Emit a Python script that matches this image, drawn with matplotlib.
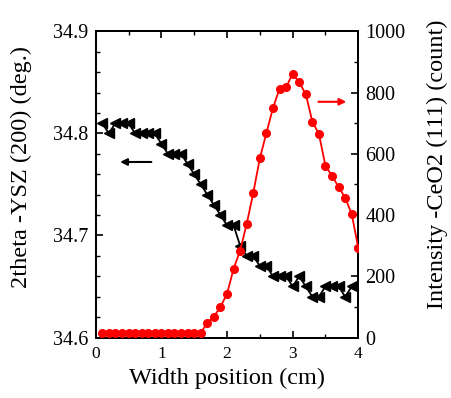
import matplotlib
matplotlib.use("Agg")
import matplotlib.pyplot as plt
from matplotlib.ticker import MultipleLocator, FormatStrFormatter

plt.rcParams["font.family"] = ["Liberation Serif", "DejaVu Serif"]

# width position (cm), same grid for both scans
position = [round(0.1 * i, 1) for i in range(1, 41)]

# 2theta of YSZ (200) peak, deg.
theta_ysz = [34.81, 34.80, 34.81, 34.81, 34.81, 34.80, 34.80, 34.80, 34.80, 34.79,
             34.78, 34.78, 34.78, 34.77, 34.76, 34.75, 34.74, 34.73, 34.72, 34.71,
             34.71, 34.69, 34.68, 34.68, 34.67, 34.67, 34.66, 34.66, 34.66, 34.65,
             34.66, 34.65, 34.64, 34.64, 34.65, 34.65, 34.65, 34.64, 34.65, 34.65]

# CeO2 (111) intensity, counts
intensity_ceo2 = [15, 15, 15, 15, 15, 15, 15, 15, 15, 15,
                  15, 15, 15, 15, 15, 15, 48, 68, 100, 142,
                  224, 284, 371, 472, 585, 668, 749, 813, 817, 862,
                  833, 795, 705, 665, 560, 529, 491, 457, 403, 292]

fig = plt.figure(figsize=(4.52, 3.98), dpi=100)
ax = fig.add_axes([0.2117, 0.152, 0.581, 0.7692])
ax2 = ax.twinx()

ax.plot(position, theta_ysz, color="black", lw=1.3, marker="<", ms=6.5,
        mec="black", mfc="black", zorder=3)
ax2.plot(position, intensity_ceo2, color="red", lw=1.3, marker="o", ms=5.5,
         mec="red", mfc="red", zorder=3)

ax.set_xlim(0, 4)
ax.set_ylim(34.6, 34.9)
ax2.set_ylim(0, 1000)

ax.xaxis.set_major_locator(MultipleLocator(1))
ax.xaxis.set_minor_locator(MultipleLocator(0.5))
ax.yaxis.set_major_locator(MultipleLocator(0.1))
ax.yaxis.set_minor_locator(MultipleLocator(0.02))
ax.yaxis.set_major_formatter(FormatStrFormatter("%.1f"))
ax2.yaxis.set_major_locator(MultipleLocator(200))
ax2.yaxis.set_minor_locator(MultipleLocator(100))

ax.tick_params(axis="x", which="both", direction="in", top=True, labelsize=12.5, pad=6)
ax.tick_params(axis="y", which="both", direction="in", right=False, labelsize=14.5, pad=5)
ax2.tick_params(axis="y", which="both", direction="in", labelsize=14.5, pad=5)
for a in (ax, ax2):
    a.tick_params(which="major", length=5, width=1.2)
    a.tick_params(which="minor", length=3, width=1.0)
    for s in a.spines.values():
        s.set_linewidth(1.4)

ax.set_xlabel("Width position (cm)", fontsize=17.5, labelpad=4)
ax.set_ylabel("2theta -YSZ (200) (deg.)", fontsize=17.5)
ax2.set_ylabel("Intensity -CeO2 (111) (count)", fontsize=17.5, rotation=90)
ax.yaxis.set_label_coords(-0.283, 0.557)
ax2.yaxis.set_label_coords(1.30, 0.567)
ax.yaxis.label.set_va("center")
ax2.yaxis.label.set_va("center")

# arrows pointing to the axis each curve belongs to
ax.annotate("", xy=(0.33, 34.772), xytext=(0.89, 34.772),
            arrowprops=dict(arrowstyle="-|>", color="black", lw=1.5, mutation_scale=10))
ax2.annotate("", xy=(3.86, 770), xytext=(3.35, 770),
             arrowprops=dict(arrowstyle="-|>", color="red", lw=1.5, mutation_scale=10))

fig.savefig("out.png", dpi=100)
